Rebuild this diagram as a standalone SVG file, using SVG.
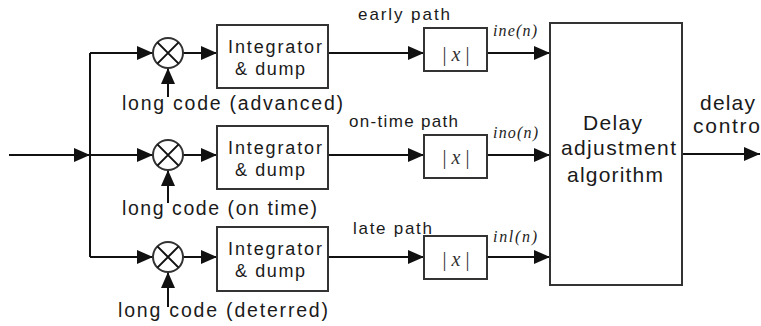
<svg xmlns="http://www.w3.org/2000/svg" width="761" height="326" viewBox="0 0 761 326">
<defs>
<marker id="ah" markerUnits="userSpaceOnUse" markerWidth="16" markerHeight="14" refX="16" refY="7" orient="auto">
<path d="M0,0 L16,7 L0,14 z" fill="#111"/>
</marker>
<style>
.ln{stroke:#111;stroke-width:2;fill:none}
.bx{stroke:#333;stroke-width:2;fill:#fff}
.t{font-family:"Liberation Sans",Arial,sans-serif;fill:#1a1a1a}
.box{font-size:18px}
.lc{font-size:19.5px}
.pl{font-size:17px}
.big{font-size:21px}
.abs{font-family:"Liberation Serif","Times New Roman",serif;font-size:20px;fill:#333}
.sig{font-family:"Liberation Serif","Times New Roman",serif;font-style:italic;font-size:16px;fill:#222}
</style>
</defs>
<rect width="761" height="326" fill="#fff"/>

<g id="connectors">
<line class="ln" x1="9" y1="155" x2="90" y2="155" marker-end="url(#ah)"/>
<line class="ln" x1="90" y1="53" x2="90" y2="257"/>
<line class="ln" x1="90" y1="53" x2="153" y2="53" marker-end="url(#ah)"/>
<line class="ln" x1="90" y1="155" x2="153" y2="155" marker-end="url(#ah)"/>
<line class="ln" x1="90" y1="257" x2="153" y2="257" marker-end="url(#ah)"/>
<line class="ln" x1="183" y1="53" x2="217" y2="53" marker-end="url(#ah)"/>
<line class="ln" x1="183" y1="155" x2="217" y2="155" marker-end="url(#ah)"/>
<line class="ln" x1="183" y1="257" x2="217" y2="257" marker-end="url(#ah)"/>
<line class="ln" x1="168" y1="97" x2="168" y2="68" marker-end="url(#ah)"/>
<line class="ln" x1="168" y1="203" x2="168" y2="170" marker-end="url(#ah)"/>
<line class="ln" x1="168" y1="307" x2="168" y2="272" marker-end="url(#ah)"/>
<line class="ln" x1="328" y1="53" x2="424" y2="53" marker-end="url(#ah)"/>
<line class="ln" x1="328" y1="155" x2="424" y2="155" marker-end="url(#ah)"/>
<line class="ln" x1="328" y1="257" x2="424" y2="257" marker-end="url(#ah)"/>
<line class="ln" x1="487" y1="53" x2="550" y2="53" marker-end="url(#ah)"/>
<line class="ln" x1="487" y1="155" x2="550" y2="155" marker-end="url(#ah)"/>
<line class="ln" x1="487" y1="257" x2="550" y2="257" marker-end="url(#ah)"/>
<line class="ln" x1="682" y1="154" x2="760" y2="154" marker-end="url(#ah)"/>
</g>

<g id="mult1"><circle class="bx" cx="168" cy="53" r="15"/><path class="ln" d="M157.4,42.4 L178.6,63.6 M178.6,42.4 L157.4,63.6"/></g>
<g id="mult2"><circle class="bx" cx="168" cy="155" r="15"/><path class="ln" d="M157.4,144.4 L178.6,165.6 M178.6,144.4 L157.4,165.6"/></g>
<g id="mult3"><circle class="bx" cx="168" cy="257" r="15"/><path class="ln" d="M157.4,246.4 L178.6,267.6 M178.6,246.4 L157.4,267.6"/></g>

<g id="code1"><text class="t lc" x="122" y="110" textLength="221" lengthAdjust="spacing">long code (advanced)</text></g>
<g id="code2"><text class="t lc" x="122" y="215" textLength="195" lengthAdjust="spacing">long code (on time)</text></g>
<g id="code3"><text class="t lc" x="118" y="317" textLength="210" lengthAdjust="spacing">long code (deterred)</text></g>

<g id="int1"><rect class="bx" x="217" y="25" width="111" height="63"/>
<text class="t box" x="228" y="53" textLength="94" lengthAdjust="spacing">Integrator</text><text class="t box" x="235" y="75" textLength="70" lengthAdjust="spacing">&amp; dump</text></g>
<g id="int2"><rect class="bx" x="217" y="126" width="111" height="63"/>
<text class="t box" x="228" y="154" textLength="94" lengthAdjust="spacing">Integrator</text><text class="t box" x="235" y="176" textLength="70" lengthAdjust="spacing">&amp; dump</text></g>
<g id="int3"><rect class="bx" x="217" y="227" width="111" height="64"/>
<text class="t box" x="228" y="255" textLength="94" lengthAdjust="spacing">Integrator</text><text class="t box" x="235" y="277" textLength="70" lengthAdjust="spacing">&amp; dump</text></g>

<g id="lbl-early"><text class="t pl" x="358" y="20" textLength="92" lengthAdjust="spacing">early path</text></g>
<g id="lbl-ontime"><text class="t pl" x="349" y="127" textLength="109" lengthAdjust="spacing">on-time path</text></g>
<g id="lbl-late"><text class="t pl" x="353" y="234" textLength="79" lengthAdjust="spacing">late path</text></g>

<g id="abs1"><rect class="bx" x="424" y="28" width="63" height="43"/>
<text class="abs" x="456" y="61" text-anchor="middle">| <tspan font-style="italic">x</tspan> |</text></g>
<g id="abs2"><rect class="bx" x="424" y="135" width="63" height="43"/>
<text class="abs" x="456" y="164" text-anchor="middle">| <tspan font-style="italic">x</tspan> |</text></g>
<g id="abs3"><rect class="bx" x="424" y="236" width="63" height="43"/>
<text class="abs" x="456" y="266" text-anchor="middle">| <tspan font-style="italic">x</tspan> |</text></g>

<g id="sig1"><text class="sig" x="493" y="36" textLength="44" lengthAdjust="spacing">ine(n)</text></g>
<g id="sig2"><text class="sig" x="493" y="138" textLength="45" lengthAdjust="spacing">ino(n)</text></g>
<g id="sig3"><text class="sig" x="493" y="242" textLength="44" lengthAdjust="spacing">inl(n)</text></g>

<g id="delay-algo"><rect class="bx" x="550" y="23" width="132" height="262"/>
<text class="t big" x="583" y="130" textLength="59" lengthAdjust="spacing">Delay</text>
<text class="t big" x="561" y="155" textLength="115" lengthAdjust="spacing">adjustment</text>
<text class="t big" x="567" y="182" textLength="96" lengthAdjust="spacing">algorithm</text></g>

<g id="out-label">
<text class="t big" x="700" y="110" textLength="55" lengthAdjust="spacing">delay</text>
<text class="t big" x="693" y="133" textLength="67" lengthAdjust="spacing">contro</text></g>
</svg>
